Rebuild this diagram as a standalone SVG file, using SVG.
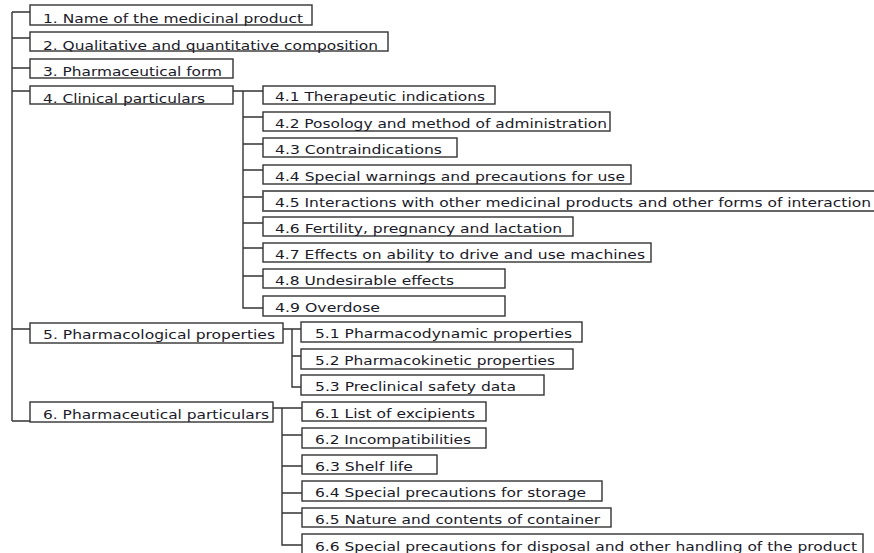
<svg xmlns="http://www.w3.org/2000/svg" width="874" height="553" viewBox="0 0 874 553">
<style>
.b{fill:#fff;stroke:#333;stroke-width:1.4}
.t{font-family:"DejaVu Sans","Verdana",sans-serif;font-size:13px;fill:#1a1a28}
.c{fill:none;stroke:#333;stroke-width:1.4}
</style>
<rect width="874" height="553" fill="#fff"/>
<g id="connectors">
<path class="c" d="M12,12V421M12,12H30M12,38H30M12,68H30M12,91H30M12,329H30M12,421H30"/>
<path class="c" d="M233,91H263M243,91V308H263M243,117H263M243,144H263M243,170H263M243,197H263M243,223H263M243,248H263M243,276H263"/>
<path class="c" d="M283,329H301M292,329V387H301M292,356H301"/>
<path class="c" d="M273,408H302M282,408V545H302M282,435H302M282,466H302M282,493H302M282,513H302"/>
</g>
<g id="n1"><rect class="b" x="30" y="5" width="282" height="20"/><text class="t" x="43" y="23" textLength="260" lengthAdjust="spacingAndGlyphs">1. Name of the medicinal product</text></g>
<g id="n2"><rect class="b" x="30" y="32" width="358" height="19"/><text class="t" x="43" y="50" textLength="335" lengthAdjust="spacingAndGlyphs">2. Qualitative and quantitative composition</text></g>
<g id="n3"><rect class="b" x="30" y="59" width="203" height="19"/><text class="t" x="43" y="76" textLength="179" lengthAdjust="spacingAndGlyphs">3. Pharmaceutical form</text></g>
<g id="n4"><rect class="b" x="30" y="86" width="203" height="18"/><text class="t" x="43" y="103" textLength="162" lengthAdjust="spacingAndGlyphs">4. Clinical particulars</text></g>
<g id="n41"><rect class="b" x="263" y="86" width="232" height="18"/><text class="t" x="275" y="101" textLength="210" lengthAdjust="spacingAndGlyphs">4.1 Therapeutic indications</text></g>
<g id="n42"><rect class="b" x="263" y="112" width="347" height="19"/><text class="t" x="275" y="128" textLength="332" lengthAdjust="spacingAndGlyphs">4.2 Posology and method of administration</text></g>
<g id="n43"><rect class="b" x="263" y="138" width="194" height="19"/><text class="t" x="275" y="154" textLength="167" lengthAdjust="spacingAndGlyphs">4.3 Contraindications</text></g>
<g id="n44"><rect class="b" x="263" y="165" width="368" height="19"/><text class="t" x="275" y="181" textLength="350" lengthAdjust="spacingAndGlyphs">4.4 Special warnings and precautions for use</text></g>
<g id="n45"><rect class="b" x="263" y="191" width="620" height="20" style="stroke:#555;stroke-width:1.8"/><text class="t" x="275" y="207" textLength="596" lengthAdjust="spacingAndGlyphs">4.5 Interactions with other medicinal products and other forms of interaction</text></g>
<g id="n46"><rect class="b" x="263" y="217" width="310" height="19"/><text class="t" x="275" y="233" textLength="287" lengthAdjust="spacingAndGlyphs">4.6 Fertility, pregnancy and lactation</text></g>
<g id="n47"><rect class="b" x="263" y="243" width="388" height="19"/><text class="t" x="275" y="259" textLength="370" lengthAdjust="spacingAndGlyphs">4.7 Effects on ability to drive and use machines</text></g>
<g id="n48"><rect class="b" x="263" y="269" width="242" height="19"/><text class="t" x="275" y="285" textLength="179" lengthAdjust="spacingAndGlyphs">4.8 Undesirable effects</text></g>
<g id="n49"><rect class="b" x="263" y="296" width="242" height="20"/><text class="t" x="275" y="312" textLength="105" lengthAdjust="spacingAndGlyphs">4.9 Overdose</text></g>
<g id="n5"><rect class="b" x="30" y="323" width="253" height="20"/><text class="t" x="43" y="339" textLength="232" lengthAdjust="spacingAndGlyphs">5. Pharmacological properties</text></g>
<g id="n51"><rect class="b" x="301" y="322" width="281" height="20"/><text class="t" x="315" y="338" textLength="257" lengthAdjust="spacingAndGlyphs">5.1 Pharmacodynamic properties</text></g>
<g id="n52"><rect class="b" x="301" y="349" width="272" height="20"/><text class="t" x="315" y="365" textLength="240" lengthAdjust="spacingAndGlyphs">5.2 Pharmacokinetic properties</text></g>
<g id="n53"><rect class="b" x="301" y="375" width="243" height="20"/><text class="t" x="315" y="391" textLength="201" lengthAdjust="spacingAndGlyphs">5.3 Preclinical safety data</text></g>
<g id="n6"><rect class="b" x="30" y="402" width="243" height="20"/><text class="t" x="43" y="419" textLength="226" lengthAdjust="spacingAndGlyphs">6. Pharmaceutical particulars</text></g>
<g id="n61"><rect class="b" x="302" y="402" width="184" height="19"/><text class="t" x="315" y="418" textLength="160" lengthAdjust="spacingAndGlyphs">6.1 List of excipients</text></g>
<g id="n62"><rect class="b" x="302" y="428" width="184" height="20"/><text class="t" x="315" y="444" textLength="156" lengthAdjust="spacingAndGlyphs">6.2 Incompatibilities</text></g>
<g id="n63"><rect class="b" x="302" y="455" width="135" height="19"/><text class="t" x="315" y="471" textLength="98" lengthAdjust="spacingAndGlyphs">6.3 Shelf life</text></g>
<g id="n64"><rect class="b" x="302" y="481" width="300" height="20"/><text class="t" x="315" y="497" textLength="271" lengthAdjust="spacingAndGlyphs">6.4 Special precautions for storage</text></g>
<g id="n65"><rect class="b" x="302" y="508" width="309" height="19"/><text class="t" x="315" y="524" textLength="285" lengthAdjust="spacingAndGlyphs">6.5 Nature and contents of container</text></g>
<g id="n66"><rect class="b" x="302" y="534" width="561" height="25"/><text class="t" x="315" y="551" textLength="542" lengthAdjust="spacingAndGlyphs">6.6 Special precautions for disposal and other handling of the product</text></g>
</svg>
